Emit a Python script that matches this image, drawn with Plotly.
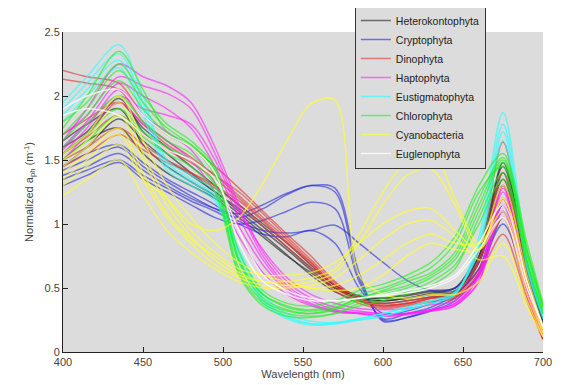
import plotly.graph_objects as go

wavelength = [400, 415, 435, 450, 465, 480, 495, 510, 525, 540, 555, 570, 585, 600, 615, 630, 645, 660, 675, 690, 700]

heterokontophyta = [
    [1.55, 1.70, 1.95, 1.75, 1.60, 1.45, 1.30, 1.15, 1.00, 0.85, 0.68, 0.52, 0.42, 0.40, 0.42, 0.45, 0.47, 0.75, 1.40, 0.65, 0.22],
    [1.45, 1.60, 1.82, 1.65, 1.50, 1.38, 1.25, 1.10, 0.95, 0.80, 0.64, 0.50, 0.42, 0.40, 0.42, 0.46, 0.50, 0.80, 1.45, 0.70, 0.25],
    [1.65, 1.78, 1.90, 1.62, 1.45, 1.33, 1.22, 1.08, 0.92, 0.76, 0.60, 0.47, 0.40, 0.38, 0.40, 0.43, 0.45, 0.70, 1.30, 0.60, 0.20],
    [1.50, 1.65, 1.75, 1.55, 1.40, 1.30, 1.20, 1.05, 0.90, 0.75, 0.62, 0.50, 0.43, 0.42, 0.45, 0.48, 0.50, 0.75, 1.35, 0.62, 0.20],
    [1.60, 1.72, 1.98, 1.72, 1.55, 1.40, 1.25, 1.12, 0.98, 0.82, 0.66, 0.52, 0.44, 0.42, 0.44, 0.47, 0.48, 0.72, 1.48, 0.70, 0.24],
]
cryptophyta = [
    [1.38, 1.45, 1.55, 1.42, 1.30, 1.20, 1.12, 1.08, 1.15, 1.24, 1.30, 1.25, 0.58, 0.25, 0.27, 0.33, 0.42, 0.60, 1.05, 0.50, 0.15],
    [1.42, 1.50, 1.60, 1.45, 1.33, 1.22, 1.12, 1.05, 1.12, 1.23, 1.30, 1.28, 0.62, 0.24, 0.27, 0.32, 0.40, 0.62, 1.10, 0.50, 0.15],
    [1.30, 1.38, 1.48, 1.35, 1.25, 1.15, 1.05, 1.00, 1.03, 1.10, 1.17, 1.12, 0.55, 0.26, 0.30, 0.35, 0.45, 0.65, 1.15, 0.55, 0.18],
    [1.45, 1.55, 1.62, 1.48, 1.35, 1.25, 1.15, 1.02, 0.95, 0.93, 0.95, 0.99, 0.85, 0.70, 0.56, 0.48, 0.50, 0.70, 1.20, 0.60, 0.20],
    [1.35, 1.42, 1.50, 1.38, 1.28, 1.18, 1.10, 1.00, 0.92, 0.90, 0.95, 0.85, 0.50, 0.30, 0.32, 0.38, 0.45, 0.65, 1.00, 0.50, 0.15],
]
dinophyta = [
    [2.20, 2.15, 2.10, 1.85, 1.70, 1.60, 1.45, 1.28, 1.10, 0.92, 0.75, 0.55, 0.42, 0.37, 0.38, 0.42, 0.45, 0.70, 1.30, 0.50, 0.10],
    [2.13, 2.10, 2.05, 1.80, 1.65, 1.52, 1.38, 1.22, 1.05, 0.88, 0.70, 0.52, 0.40, 0.36, 0.38, 0.42, 0.44, 0.65, 1.20, 0.45, 0.10],
    [1.55, 1.68, 1.85, 1.70, 1.58, 1.48, 1.35, 1.20, 1.03, 0.86, 0.68, 0.50, 0.40, 0.36, 0.38, 0.42, 0.46, 0.80, 1.64, 0.60, 0.12],
    [1.45, 1.55, 1.70, 1.58, 1.48, 1.40, 1.30, 1.18, 1.02, 0.85, 0.70, 0.52, 0.40, 0.35, 0.37, 0.40, 0.43, 0.60, 0.92, 0.40, 0.10],
    [1.70, 1.82, 1.95, 1.78, 1.62, 1.50, 1.38, 1.25, 1.08, 0.90, 0.72, 0.54, 0.42, 0.38, 0.40, 0.43, 0.46, 0.72, 1.40, 0.55, 0.12],
    [1.50, 1.60, 1.75, 1.62, 1.50, 1.40, 1.28, 1.15, 0.98, 0.82, 0.65, 0.48, 0.38, 0.34, 0.36, 0.39, 0.42, 0.62, 1.05, 0.42, 0.10],
]
haptophyta = [
    [1.65, 1.90, 2.25, 2.15, 2.08, 1.95, 1.60, 1.15, 0.78, 0.55, 0.42, 0.35, 0.32, 0.30, 0.30, 0.33, 0.38, 0.60, 1.30, 0.55, 0.15],
    [1.60, 1.80, 2.10, 2.00, 1.90, 1.75, 1.45, 1.05, 0.72, 0.50, 0.38, 0.32, 0.30, 0.28, 0.29, 0.32, 0.36, 0.55, 1.20, 0.50, 0.15],
    [1.55, 1.75, 2.05, 1.85, 1.72, 1.58, 1.32, 0.98, 0.68, 0.48, 0.37, 0.32, 0.31, 0.30, 0.30, 0.33, 0.37, 0.55, 1.15, 0.45, 0.12],
    [1.70, 1.85, 2.15, 2.08, 2.02, 1.90, 1.55, 1.12, 0.75, 0.52, 0.40, 0.33, 0.30, 0.28, 0.30, 0.32, 0.36, 0.60, 1.28, 0.50, 0.15],
    [1.50, 1.70, 1.95, 1.78, 1.65, 1.50, 1.25, 0.90, 0.62, 0.45, 0.36, 0.31, 0.30, 0.29, 0.30, 0.33, 0.38, 0.58, 1.10, 0.45, 0.12],
    [1.58, 1.78, 2.00, 1.90, 1.85, 1.78, 1.50, 1.10, 0.80, 0.58, 0.45, 0.38, 0.34, 0.33, 0.34, 0.37, 0.40, 0.62, 1.25, 0.50, 0.15],
]
eustigmatophyta = [
    [1.95, 2.15, 2.40, 2.00, 1.50, 1.38, 1.25, 0.80, 0.45, 0.30, 0.24, 0.23, 0.25, 0.28, 0.33, 0.38, 0.45, 0.90, 1.87, 0.75, 0.30],
    [1.90, 2.10, 2.33, 1.95, 1.48, 1.35, 1.22, 0.78, 0.42, 0.28, 0.22, 0.22, 0.25, 0.28, 0.33, 0.38, 0.45, 0.85, 1.78, 0.70, 0.28],
    [1.85, 2.05, 2.28, 1.90, 1.45, 1.33, 1.20, 0.75, 0.40, 0.27, 0.22, 0.23, 0.26, 0.30, 0.35, 0.40, 0.47, 0.82, 1.72, 0.68, 0.28],
    [1.80, 2.00, 2.22, 1.85, 1.42, 1.30, 1.18, 0.72, 0.38, 0.26, 0.21, 0.22, 0.26, 0.30, 0.35, 0.40, 0.46, 0.80, 1.65, 0.65, 0.26],
]
chlorophyta = [
    [1.75, 2.00, 2.35, 2.05, 1.72, 1.62, 1.42, 0.72, 0.45, 0.35, 0.32, 0.35, 0.42, 0.47, 0.52, 0.60, 0.75, 1.15, 1.50, 0.80, 0.35],
    [1.65, 1.85, 2.12, 1.90, 1.70, 1.60, 1.38, 0.70, 0.42, 0.33, 0.30, 0.33, 0.40, 0.45, 0.50, 0.58, 0.72, 1.10, 1.48, 0.78, 0.35],
    [1.60, 1.78, 2.00, 1.80, 1.65, 1.55, 1.32, 0.65, 0.40, 0.32, 0.30, 0.34, 0.42, 0.48, 0.55, 0.62, 0.78, 1.20, 1.52, 0.80, 0.36],
    [1.70, 1.90, 2.20, 1.95, 1.75, 1.62, 1.42, 0.72, 0.45, 0.36, 0.33, 0.37, 0.45, 0.50, 0.57, 0.66, 0.85, 1.25, 1.45, 0.75, 0.32],
    [1.55, 1.70, 1.90, 1.72, 1.60, 1.50, 1.30, 0.62, 0.38, 0.30, 0.28, 0.30, 0.36, 0.40, 0.45, 0.52, 0.65, 1.05, 1.40, 0.70, 0.30],
    [1.80, 1.95, 2.25, 2.00, 1.78, 1.65, 1.45, 0.78, 0.48, 0.38, 0.36, 0.40, 0.48, 0.53, 0.60, 0.70, 0.90, 1.30, 1.55, 0.85, 0.38],
    [1.50, 1.65, 1.85, 1.68, 1.55, 1.45, 1.25, 0.60, 0.36, 0.28, 0.27, 0.30, 0.38, 0.42, 0.47, 0.55, 0.68, 1.00, 1.35, 0.70, 0.30],
]
cyanobacteria = [
    [1.30, 1.45, 1.62, 1.35, 1.20, 1.00, 0.95, 1.05, 1.32, 1.65, 1.94, 1.97, 0.60, 0.45, 0.42, 0.45, 0.45, 0.55, 0.85, 0.40, 0.12],
    [1.45, 1.60, 1.85, 1.50, 1.15, 0.90, 0.72, 0.60, 0.55, 0.55, 0.58, 0.65, 0.92, 1.25, 1.50, 1.58, 1.20, 0.85, 1.10, 0.50, 0.15],
    [1.35, 1.50, 1.70, 1.35, 1.05, 0.85, 0.68, 0.58, 0.52, 0.52, 0.55, 0.62, 0.85, 1.15, 1.38, 1.43, 1.15, 0.80, 1.05, 0.45, 0.15],
    [1.50, 1.65, 1.95, 1.55, 1.20, 0.95, 0.78, 0.65, 0.60, 0.60, 0.62, 0.70, 0.85, 1.00, 1.10, 1.12, 0.95, 0.80, 1.20, 0.55, 0.18],
    [1.22, 1.35, 1.50, 1.22, 0.95, 0.78, 0.65, 0.55, 0.50, 0.50, 0.52, 0.58, 0.72, 0.88, 1.00, 1.03, 0.90, 0.72, 0.75, 0.35, 0.12],
    [1.40, 1.55, 1.75, 1.40, 1.08, 0.88, 0.75, 0.62, 0.55, 0.52, 0.50, 0.52, 0.60, 0.72, 0.85, 0.92, 0.85, 0.85, 1.30, 0.60, 0.20],
    [1.55, 1.70, 2.00, 1.65, 1.30, 1.05, 0.85, 0.70, 0.60, 0.55, 0.50, 0.48, 0.50, 0.60, 0.75, 0.85, 0.80, 0.80, 1.20, 0.55, 0.18],
]
euglenophyta = [
    [1.90, 2.00, 2.05, 1.85, 1.70, 1.60, 1.40, 0.85, 0.55, 0.45, 0.40, 0.40, 0.42, 0.45, 0.48, 0.52, 0.60, 0.85, 1.15, 0.55, 0.20],
    [1.85, 1.90, 1.85, 1.70, 1.58, 1.50, 1.35, 0.95, 0.60, 0.48, 0.42, 0.40, 0.42, 0.44, 0.46, 0.50, 0.58, 0.80, 1.05, 0.50, 0.20],
]

groups = [
    ("Heterokontophyta", heterokontophyta, "rgba(30,30,30,0.6)"),
    ("Cryptophyta", cryptophyta, "rgba(40,40,220,0.6)"),
    ("Dinophyta", dinophyta, "rgba(225,50,50,0.6)"),
    ("Haptophyta", haptophyta, "rgba(255,30,255,0.6)"),
    ("Eustigmatophyta", eustigmatophyta, "rgba(40,255,255,0.6)"),
    ("Chlorophyta", chlorophyta, "rgba(30,240,30,0.6)"),
    ("Cyanobacteria", cyanobacteria, "rgba(255,255,40,0.65)"),
    ("Euglenophyta", euglenophyta, "rgba(255,255,255,0.75)"),
]

fig = go.Figure()
for name, curves, color in groups:
    for i, ys in enumerate(curves):
        fig.add_trace(go.Scatter(
            x=wavelength, y=ys, mode="lines", name=name, legendgroup=name,
            showlegend=(i == 0),
            line=dict(color=color, width=1.5, shape="spline", smoothing=0.9),
            hoverinfo="skip",
        ))

axis_font = dict(family="Liberation Sans, Arial, sans-serif", size=11, color="#444")
# page body adds an 8px offset, so the figure is sized to fit the remaining window
fig.update_layout(
    width=555, height=377,
    margin=dict(l=55, r=20, t=24, b=33, autoexpand=False),
    paper_bgcolor="white",
    plot_bgcolor="#dcdcdc",
    font=axis_font,
    showlegend=True,
    legend=dict(
        x=0.608, y=1.084, xanchor="left", yanchor="top",
        bgcolor="#dcdcdc", bordercolor="#333", borderwidth=1,
        font=dict(family="Liberation Sans, Arial, sans-serif", size=10.5, color="#222"),
        tracegroupgap=0, itemwidth=30,
    ),
    xaxis=dict(
        range=[400, 700], dtick=50, tick0=400, ticks="inside", ticklen=5,
        tickcolor="#222", showline=True, linecolor="#222", linewidth=1,
        showgrid=False, zeroline=False, tickfont=axis_font, automargin=False,
        title=dict(text="Wavelength (nm)", font=axis_font, standoff=2),
    ),
    yaxis=dict(
        range=[0, 2.5], dtick=0.5, tick0=0, ticks="inside", ticklen=5,
        tickcolor="#222", showline=True, linecolor="#222", linewidth=1,
        showgrid=False, zeroline=False, tickfont=axis_font, automargin=False,
        title=dict(text="Normalized a<sub>ph</sub> (m<sup>-1</sup>)", font=axis_font, standoff=8),
    ),
)

fig.write_html("out.html")
